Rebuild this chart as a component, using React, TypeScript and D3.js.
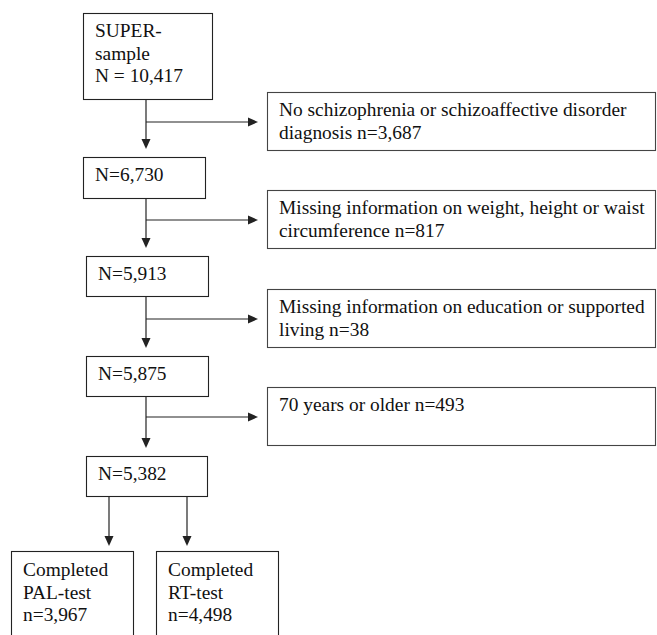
import * as d3 from "d3";
import React from "react";

// flow steps (remaining sample after each exclusion)
const stepLabels: string[][] = [
  ["SUPER-", "sample", "N = 10,417"],
  ["N=6,730"],
  ["N=5,913"],
  ["N=5,875"],
  ["N=5,382"],
];

// exclusions between steps
const exclusionLabels: string[][] = [
  ["No schizophrenia or schizoaffective disorder", "diagnosis n=3,687"],
  ["Missing information on weight, height or waist", "circumference n=817"],
  ["Missing information on education or supported", "living n=38"],
  ["70 years or older n=493"],
];

// final outcomes
const outcomeLabels: string[][] = [
  ["Completed", "PAL-test", "n=3,967"],
  ["Completed", "RT-test", "n=4,498"],
];

const W = 657;
const H = 635;
const FONT = "Liberation Serif, Times New Roman, Times, serif";
const FS = 19.4;
const LINE_H = 22.5;
const STROKE = "#222";

// layout of the step boxes
const stepBoxes = [
  { x: 83, y: 13, w: 129, h: 86 },
  { x: 83, y: 157, w: 122, h: 41 },
  { x: 86, y: 256, w: 122, h: 40 },
  { x: 86, y: 356, w: 122, h: 40 },
  { x: 86, y: 456, w: 121, h: 40 },
];
const exclTops = [92, 190, 289, 387];
const exclX = 267;
const exclH = 58;
const spineX = 146;
const outcomeX = [11, 156];
const outcomeW = 122;
const outcomeTop = 551;

function Arrow({ x1, y1, x2, y2 }: { x1: number; y1: number; x2: number; y2: number }) {
  const ang = Math.atan2(y2 - y1, x2 - x1);
  const len = 10;
  const half = 4.5;
  const bx = x2 - len * Math.cos(ang);
  const by = y2 - len * Math.sin(ang);
  const px = -Math.sin(ang) * half;
  const py = Math.cos(ang) * half;
  const head = d3.path();
  head.moveTo(x2, y2);
  head.lineTo(bx + px, by + py);
  head.lineTo(bx - px, by - py);
  head.closePath();
  return (
    <g>
      <line x1={x1} y1={y1} x2={bx} y2={by} stroke={STROKE} strokeWidth={1.2} />
      <path d={head.toString()} fill={STROKE} />
    </g>
  );
}

function Box({ x, y, w, h, lines, firstBase, stroke = STROKE }: {
  x: number; y: number; w: number; h: number; lines: string[]; firstBase: number; stroke?: string;
}) {
  return (
    <g>
      <rect x={x + 0.5} y={y + 0.5} width={w} height={h} fill="#fff" stroke={stroke} strokeWidth={1.1} />
      <text fontFamily={FONT} fontSize={FS} fill="#111">
        {lines.map((l, i) => (
          <tspan key={i} x={x + 12} y={y + firstBase + i * LINE_H}>
            {l}
          </tspan>
        ))}
      </text>
    </g>
  );
}

export default function App(): React.ReactElement {
  const last = stepBoxes[stepBoxes.length - 1];
  const outcomeArrowX = [109, 187];
  return (
    <div style={{ position: "fixed", left: 0, top: 0 }}>
      <svg width={W} height={H} style={{ display: "block", background: "#fff" }}>
        {/* spine arrows with side branches */}
        {exclusionLabels.map((_, i) => {
          const from = stepBoxes[i];
          const to = stepBoxes[i + 1];
          const branchY = exclTops[i] + 30;
          return (
            <g key={`sp-${i}`}>
              <Arrow x1={spineX} y1={from.y + from.h} x2={spineX} y2={to.y - 8} />
              <Arrow x1={spineX} y1={branchY} x2={exclX - 9} y2={branchY} />
            </g>
          );
        })}
        {outcomeArrowX.map((ax, i) => (
          <Arrow key={`oa-${i}`} x1={ax} y1={last.y + last.h} x2={ax} y2={outcomeTop - 5} />
        ))}

        {stepLabels.map((lines, i) => (
          <Box key={`st-${i}`} {...stepBoxes[i]} lines={lines} firstBase={24} />
        ))}
        {exclusionLabels.map((lines, i) => (
          <Box
            key={`ex-${i}`}
            x={exclX}
            y={exclTops[i]}
            w={W - exclX - 2}
            h={exclH}
            lines={lines}
            firstBase={24}
            stroke="#444"
          />
        ))}
        {outcomeLabels.map((lines, i) => (
          <Box
            key={`oc-${i}`}
            x={outcomeX[i]}
            y={outcomeTop}
            w={outcomeW}
            h={110}
            lines={lines}
            firstBase={25}
          />
        ))}
      </svg>
    </div>
  );
}
